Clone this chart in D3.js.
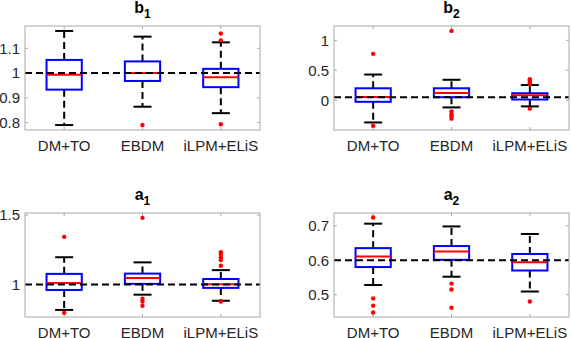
<!DOCTYPE html>
<html>
<head>
<meta charset="utf-8">
<script src="https://cdn.jsdelivr.net/npm/d3@7"></script>
<style>
  body { margin: 0; background: #fff; }
  svg { display: block; font-family: "Liberation Sans", Arial, sans-serif; }
</style>
</head>
<body>
<svg id="chart" width="572" height="338"></svg>
<script>
// boxplot comparison, 2x2 panels

var methods = ["DM+TO", "EBDM", "iLPM+ELiS"];

// [lower whisker, q1, median, q3, upper whisker] for each method
var b1Stats = [[0.79, 0.933, 0.993, 1.053, 1.17], [0.864, 0.968, 1.0, 1.047, 1.147], [0.838, 0.943, 0.983, 1.017, 1.124]];
var b1Outliers = [[], [0.79], [1.16, 1.132, 0.793]];
var b1Ticks = [0.8, 0.9, 1, 1.1];

var b2Stats = [[-0.374, -0.028, 0.054, 0.198, 0.428], [-0.122, 0.049, 0.12, 0.198, 0.34], [-0.105, 0.01, 0.082, 0.115, 0.252]];
var b2Outliers = [[0.774, -0.43], [1.158, -0.19, -0.24, -0.27, -0.31], [0.35, 0.33, 0.3, 0.27, -0.143]];
var b2Ticks = [0, 0.5, 1];

var a1Stats = [[0.816, 0.96, 1.01, 1.076, 1.196], [0.926, 1.004, 1.046, 1.078, 1.159], [0.882, 0.975, 1.002, 1.039, 1.103]];
var a1Outliers = [[1.343, 0.796], [1.48, 0.897, 0.877, 0.846], [1.232, 1.215, 1.196, 1.176, 1.135, 0.877]];
var a1Ticks = [1, 1.5];

var a2Stats = [[0.528, 0.58, 0.611, 0.635, 0.706], [0.552, 0.601, 0.625, 0.641, 0.698], [0.509, 0.57, 0.594, 0.618, 0.676]];
var a2Outliers = [[0.724, 0.489, 0.468, 0.448], [0.532, 0.515, 0.462], [0.48]];
var a2Ticks = [0.5, 0.6, 0.7];

var panels = [
	{ name: "b", sub: "1", stats: b1Stats, out: b1Outliers, ticks: b1Ticks, ylim: [0.77, 1.19], ref: 1,    x: 25,  y: 26 },
	{ name: "b", sub: "2", stats: b2Stats, out: b2Outliers, ticks: b2Ticks, ylim: [-0.5, 1.24], ref: 0.05, x: 334, y: 26 },
	{ name: "a", sub: "1", stats: a1Stats, out: a1Outliers, ticks: a1Ticks, ylim: [0.765, 1.515], ref: 1,  x: 25,  y: 213 },
	{ name: "a", sub: "2", stats: a2Stats, out: a2Outliers, ticks: a2Ticks, ylim: [0.435, 0.737], ref: 0.6, x: 334, y: 213 }
];

var w = 235, h = 104;
var axisColor = "#a8a8a8", textColor = "#262626";

var svg = d3.select("#chart");

panels.forEach(function(p) {
	var g = svg.append("g").attr("transform", "translate(" + p.x + "," + p.y + ")");

	var x = d3.scaleLinear().domain([0.5, 3.5]).range([0, w]);
	var y = d3.scaleLinear().domain(p.ylim).range([h, 0]);
	var half = 0.225, cap = 0.115;

	// ticks inside on all four sides
	var tl = 3;
	p.ticks.forEach(function(t) {
		g.append("line").attr("x1", 0).attr("x2", tl).attr("y1", y(t)).attr("y2", y(t)).attr("stroke", axisColor);
		g.append("line").attr("x1", w).attr("x2", w - tl).attr("y1", y(t)).attr("y2", y(t)).attr("stroke", axisColor);
		g.append("text").attr("x", -5).attr("y", y(t)).attr("dy", "0.36em")
			.attr("text-anchor", "end").attr("font-size", 15).attr("fill", textColor)
			.text(d3.format("~g")(t));
	});
	methods.forEach(function(m, i) {
		var cx = x(i + 1);
		g.append("line").attr("x1", cx).attr("x2", cx).attr("y1", h).attr("y2", h - tl).attr("stroke", axisColor);
		g.append("line").attr("x1", cx).attr("x2", cx).attr("y1", 0).attr("y2", tl).attr("stroke", axisColor);
		g.append("text").attr("x", cx).attr("y", h + 21)
			.attr("text-anchor", "middle").attr("font-size", 15).attr("fill", textColor)
			.text(m);
	});

	// boxes
	var box = g.selectAll("g.box")
		.data(p.stats)
		.enter().append("g")
		.attr("class", "box");

	// whiskers
	box.append("line")
		.attr("x1", function(d, i) { return x(i + 1); })
		.attr("x2", function(d, i) { return x(i + 1); })
		.attr("y1", function(d) { return y(d[3]); })
		.attr("y2", function(d) { return y(d[4]); })
		.attr("stroke", "#000").attr("stroke-width", 2).attr("stroke-dasharray", "7,4");
	box.append("line")
		.attr("x1", function(d, i) { return x(i + 1); })
		.attr("x2", function(d, i) { return x(i + 1); })
		.attr("y1", function(d) { return y(d[1]); })
		.attr("y2", function(d) { return y(d[0]); })
		.attr("stroke", "#000").attr("stroke-width", 2).attr("stroke-dasharray", "7,4");
	[0, 4].forEach(function(k) {
		box.append("line")
			.attr("x1", function(d, i) { return x(i + 1 - cap); })
			.attr("x2", function(d, i) { return x(i + 1 + cap); })
			.attr("y1", function(d) { return y(d[k]); })
			.attr("y2", function(d) { return y(d[k]); })
			.attr("stroke", "#000").attr("stroke-width", 2);
	});

	box.append("rect")
		.attr("x", function(d, i) { return x(i + 1 - half); })
		.attr("width", x(1 + half) - x(1 - half))
		.attr("y", function(d) { return y(d[3]); })
		.attr("height", function(d) { return y(d[1]) - y(d[3]); })
		.attr("fill", "none").attr("stroke", "#0000ff").attr("stroke-width", 2);

	box.append("line")
		.attr("x1", function(d, i) { return x(i + 1 - half); })
		.attr("x2", function(d, i) { return x(i + 1 + half); })
		.attr("y1", function(d) { return y(d[2]); })
		.attr("y2", function(d) { return y(d[2]); })
		.attr("stroke", "#ff0000").attr("stroke-width", 2);

	// outliers
	p.out.forEach(function(arr, i) {
		g.selectAll(null)
			.data(arr)
			.enter().append("circle")
			.attr("cx", x(i + 1))
			.attr("cy", function(d) { return y(d); })
			.attr("r", 2.2)
			.attr("fill", "#ff0000");
	});

	// reference value
	g.append("line")
		.attr("x1", 0).attr("x2", w)
		.attr("y1", y(p.ref)).attr("y2", y(p.ref))
		.attr("stroke", "#000").attr("stroke-width", 2).attr("stroke-dasharray", "7,4");

	// frame
	g.append("rect").attr("x", 0).attr("y", 0).attr("width", w).attr("height", h)
		.attr("fill", "none").attr("stroke", axisColor).attr("stroke-width", 1);

	// title
	var title = g.append("text").attr("x", w / 2).attr("y", -13)
		.attr("text-anchor", "middle").attr("font-size", 16).attr("font-weight", "bold").attr("fill", "#000");
	title.append("tspan").text(p.name);
	title.append("tspan").attr("dy", 5).attr("font-size", 12).text(p.sub);
});
</script>
</body>
</html>
